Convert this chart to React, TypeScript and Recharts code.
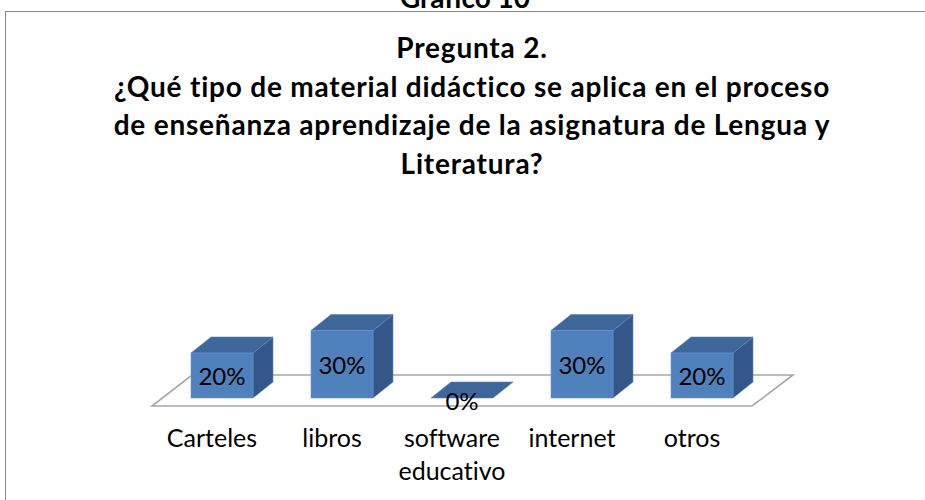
import React from "react";
import { BarChart, Bar, XAxis, YAxis, ReferenceLine } from "recharts";

const caption = "Gráfico 10";
const titleLines = [
  "Pregunta 2.",
  "¿Qué tipo de material didáctico se aplica en el proceso",
  "de enseñanza aprendizaje de la asignatura de Lengua y",
  "Literatura?",
];
const categories = ["Carteles", "libros", "software educativo", "internet", "otros"];
const percentages = [20, 30, 0, 30, 20];

const data = categories.map((name, i) => ({ name, value: percentages[i] }));

const FONT = "Lato, 'Open Sans', sans-serif";
const NO_LIGA: React.CSSProperties = { fontVariantLigatures: "none" };
const DX = 20;
const DY = 16;
const MARGIN = { top: 308, right: 163, bottom: 72, left: 162 };

// 3D box: front face, top face and right side
const Box3D = (props: any) => {
  const { x, y, width: w, height: h, value } = props;
  const top = `${x},${y} ${x + w},${y} ${x + w + DX},${y - DY} ${x + DX},${y - DY}`;
  const side = `${x + w},${y} ${x + w + DX},${y - DY} ${x + w + DX},${y + h - DY} ${x + w},${y + h}`;
  return (
    <g>
      {h > 0 && (
        <polygon points={side} fill="#34578a" stroke="#5a86c0" strokeWidth={0.6} />
      )}
      <polygon points={top} fill="#3d6699" stroke="#5a86c0" strokeWidth={0.6} />
      {h > 0 && (
        <rect x={x} y={y} width={w} height={h} fill="#4f81bd" stroke="#6a96cf" strokeWidth={0.6} />
      )}
      <text
        x={x + w / 2}
        y={h > 0 ? y + h / 2 : y + 2}
        textAnchor="middle"
        dominantBaseline="central"
        fontFamily={FONT}
        fontSize={24}
        fill="#000"
      >
        {value}%
      </text>
    </g>
  );
};

// floor parallelogram drawn from the baseline endpoints
const Floor = (props: any) => {
  const { x1, y1, x2 } = props;
  const pts = [
    [x1 - 10, y1 + 8],
    [x2 - 10, y1 + 8],
    [x2 + 31, y1 - 23],
    [x1 + 30, y1 - 23],
  ]
    .map((p) => p.join(","))
    .join(" ");
  return <polygon points={pts} fill="none" stroke="#a6a6a6" strokeWidth={1.6} />;
};

const CategoryTick = (props: any) => {
  const { x, y, payload } = props;
  const words = String(payload.value).split(" ");
  return (
    <g>
      {words.map((wd, i) => (
        <text
          key={i}
          x={x - 10}
          y={y + 49 + i * 33}
          textAnchor="middle"
          fontFamily={FONT}
          fontSize={25}
          fill="#000"
          style={NO_LIGA}
        >
          {wd}
        </text>
      ))}
    </g>
  );
};

const layer: React.CSSProperties = { position: "absolute", left: 0, top: 0 };

export default function App() {
  return (
    <div
      style={{
        position: "absolute",
        left: 0,
        top: 0,
        width: 925,
        height: 500,
        overflow: "hidden",
        background: "#fff",
      }}
    >
      <div
        style={{
          position: "absolute",
          left: 5,
          top: 11,
          width: 960,
          height: 560,
          border: "1.5px solid #878787",
        }}
      />
      <svg width={925} height={200} style={layer}>
        <text
          x={465}
          y={8}
          textAnchor="middle"
          fontFamily={FONT}
          fontWeight={700}
          fontSize={28}
          fill="#000"
          style={NO_LIGA}
        >
          {caption}
        </text>
        {titleLines.map((line, i) => (
          <text
            key={i}
            x={472}
            y={58 + i * 38.5}
            textAnchor="middle"
            fontFamily={FONT}
            fontWeight={700}
            fontSize={28}
            letterSpacing={0.8}
            fill="#000"
            style={NO_LIGA}
          >
            {line}
          </text>
        ))}
      </svg>

      {/* bottom layer: floor and category labels */}
      <div style={layer}>
        <BarChart width={925} height={500} data={data} margin={MARGIN}>
          <XAxis
            dataKey="name"
            axisLine={false}
            tickLine={false}
            tickSize={0}
            tickMargin={0}
            interval={0}
            tick={<CategoryTick />}
          />
          <YAxis hide domain={[0, 40]} />
          <Bar
            dataKey="value"
            barSize={62}
            fill="none"
            shape={() => <g />}
            isAnimationActive={false}
          />
          <ReferenceLine y={0} shape={<Floor />} />
        </BarChart>
      </div>

      {/* top layer: 3D bars */}
      <div style={layer}>
        <BarChart width={925} height={500} data={data} margin={MARGIN}>
          <XAxis dataKey="name" axisLine={false} tickLine={false} tick={false} />
          <YAxis hide domain={[0, 40]} />
          <Bar
            dataKey="value"
            barSize={62}
            shape={<Box3D />}
            isAnimationActive={false}
          />
        </BarChart>
      </div>
    </div>
  );
}
